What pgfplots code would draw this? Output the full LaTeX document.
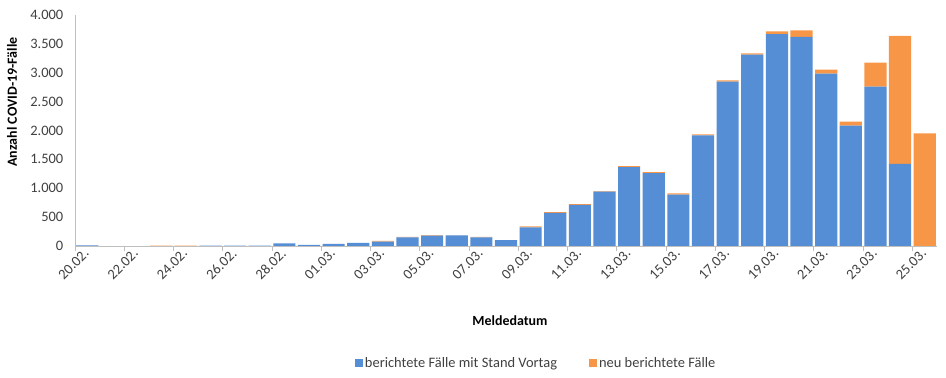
\documentclass[border=0pt]{standalone}
\usepackage{pgfplots}
\pgfplotsset{compat=1.18}
\usepackage{fontspec}
\setmainfont{Carlito}
\definecolor{cblue}{RGB}{85,142,213}
\definecolor{corange}{RGB}{247,150,70}
\definecolor{txt}{RGB}{64,64,64}
\definecolor{axg}{RGB}{191,191,191}
\pgfplotstableread{
idx blue orange
0 10 0
1 0 0
2 0 0
3 0 5
4 0 5
5 5 0
6 5 0
7 5 0
8 47 0
9 18 0
10 35 0
11 52 0
12 75 15
13 150 8
14 180 10
15 182 3
16 148 8
17 100 3
18 323 15
19 572 15
20 710 15
21 940 12
22 1365 20
23 1262 18
24 890 20
25 1915 17
26 2845 25
27 3315 20
28 3670 45
29 3620 115
30 2985 70
31 2084 70
32 2760 415
33 1420 2217
34 0 1952
}\datatable
\begin{document}
\begin{tikzpicture}[font=\fontsize{14.5}{16}\selectfont, text=txt]
\begin{axis}[
  scale only axis, width=862bp, height=231bp,
  xmin=-0.5, xmax=34.5, ymin=0, ymax=4000,
  ybar stacked, bar width=0.9,
  axis lines*=left,
  axis line style={draw=axg, line width=0.8bp},
  xtick={0,2,...,34},
  xticklabels={20.02.,22.02.,24.02.,26.02.,28.02.,01.03.,03.03.,05.03.,07.03.,09.03.,11.03.,13.03.,15.03.,17.03.,19.03.,21.03.,23.03.,25.03.},
  major x tick style={draw=none},
  minor xtick={-0.5,1.5,...,33.5},
  minor x tick style={draw=axg, line width=0.8bp},
  minor tick length=5bp,
  tick align=outside,
  ytick={0,500,...,4000},
  major y tick style={draw=none},
  xticklabel style={rotate=45, anchor=east, inner sep=1bp, text=txt},
  yticklabel style={text=txt, xshift=-4bp},
  legend style={at={(rel axis cs:0.535,-0.506)}, anchor=center, draw=none, fill=none,
    legend columns=2, font=\fontsize{14.5}{16}\selectfont, text=txt,
    /tikz/every even column/.append style={column sep=30bp},
    legend cell align=left},
  legend image code/.code={\fill[#1] (0bp,-4bp) rectangle (8bp,4bp);},
  /pgf/number format/1000 sep={.},
  /pgf/number format/assume math mode=true,
]
\addplot[fill=cblue, draw=none] table[x=idx, y=blue] {\datatable};
\addplot[fill=corange, draw=none] table[x=idx, y=orange] {\datatable};
\legend{berichtete Fälle mit Stand Vortag, neu berichtete Fälle}
\coordinate (sw) at (rel axis cs:0,0);
\coordinate (ne) at (rel axis cs:1,1);
\end{axis}
\node[rotate=90, font=\bfseries\fontsize{14}{16}\selectfont, text=black] at ([shift={(-63bp,144bp)}]sw) {Anzahl COVID-19-Fälle};
\node[font=\bfseries\fontsize{14}{16}\selectfont, text=black] at ([shift={(435bp,-75bp)}]sw) {Meldedatum};
\pgfresetboundingbox
\path ([shift={(-75bp,-132bp)}]sw) rectangle ([shift={(9bp,15bp)}]ne);
\end{tikzpicture}
\end{document}
